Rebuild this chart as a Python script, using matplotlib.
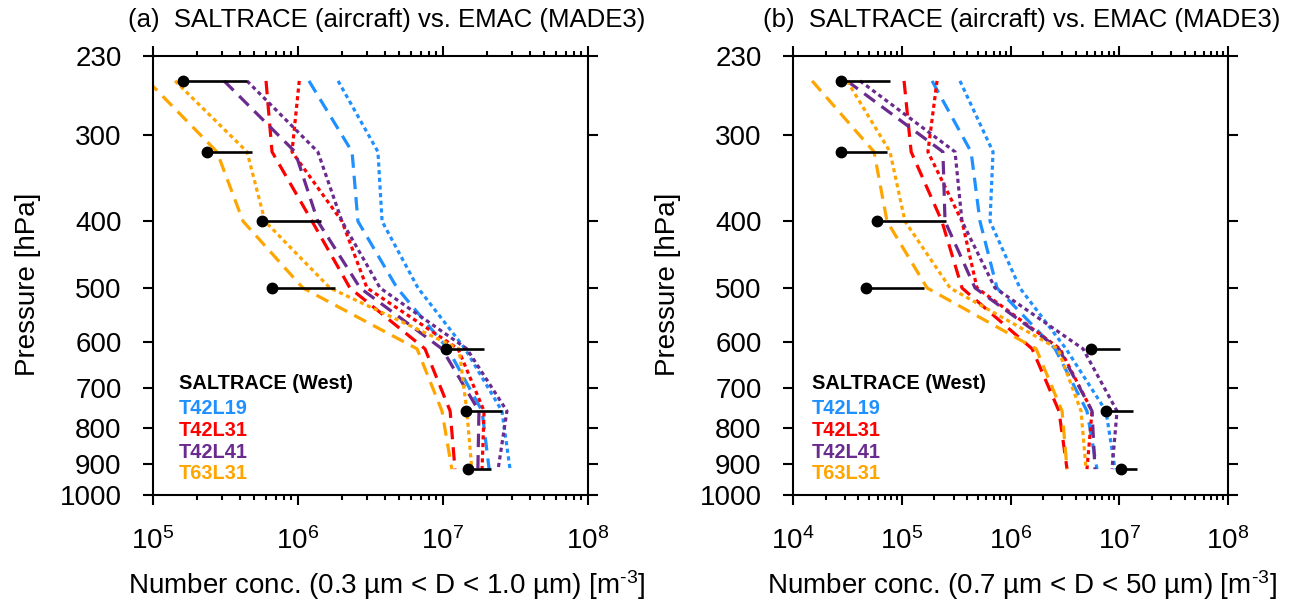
import matplotlib
matplotlib.use('Agg')
import matplotlib.pyplot as plt
from matplotlib.ticker import FixedLocator, NullLocator, LogLocator, NullFormatter

plt.rcParams['font.family'] = ['Liberation Sans', 'DejaVu Sans']
plt.rcParams['mathtext.fontset'] = 'custom'
plt.rcParams['mathtext.rm'] = 'Liberation Sans'
plt.rcParams['mathtext.it'] = 'Liberation Sans:italic'
plt.rcParams['mathtext.bf'] = 'Liberation Sans:bold'

# pressure levels [hPa] of the flight-leg bins (shared by obs and model)
pressure = [250, 317, 400, 500, 613, 755, 917]

# ---- panel (a): 0.3 um < D < 1.0 um
a_obs_mean = [1.61e5, 2.36e5, 5.65e5, 6.62e5, 1.05e7, 1.44e7, 1.49e7]
a_obs_upper = [4.45e5, 4.82e5, 1.44e6, 1.80e6, 1.92e7, 2.55e7, 2.14e7]
a_t42l19_dot = [1.89e6, 3.56e6, 3.80e6, 6.72e6, 1.42e7, 2.55e7, 2.90e7]
a_t42l19_dash = [1.19e6, 2.36e6, 2.59e6, 4.82e6, 1.08e7, 1.86e7, 2.08e7]
a_t42l31_dot = [1.02e6, 9.09e5, 2.01e6, 2.99e6, 1.27e7, 1.92e7, 1.86e7]
a_t42l31_dash = [6.02e5, 6.62e5, 1.25e6, 2.28e6, 7.51e6, 1.12e7, 1.21e7]
a_t42l41_dot = [4.45e5, 1.37e6, 2.01e6, 3.68e6, 1.46e7, 2.76e7, 2.40e7]
a_t42l41_dash = [3.09e5, 9.54e5, 1.37e6, 2.68e6, 9.84e6, 1.77e7, 1.74e7]
a_t63l31_dot = [1.42e5, 4.45e5, 5.92e5, 1.66e6, 1.29e7, 1.46e7, 1.58e7]
a_t63l31_dash = [9.2e4, 2.76e5, 4.18e5, 1.08e6, 6.62e6, 9.84e6, 1.15e7]

# ---- panel (b): 0.7 um < D < 50 um
b_obs_mean = [2.76e4, 2.76e4, 5.92e4, 4.69e4, 5.50e6, 7.55e6, 1.04e7]
b_obs_upper = [7.80e4, 7.32e4, 2.55e5, 1.60e5, 1.02e7, 1.34e7, 1.46e7]
b_t42l19_dot = [3.43e5, 6.91e5, 6.48e5, 1.22e6, 3.24e6, 7.55e6, 9.14e6]
b_t42l19_dash = [1.90e5, 4.34e5, 5.24e5, 7.51e5, 2.57e6, 5.05e6, 6.24e6]
b_t42l31_dot = [2.11e5, 1.74e5, 3.58e5, 4.92e5, 2.85e6, 5.62e6, 5.05e6]
b_t42l31_dash = [1.05e5, 1.22e5, 2.34e5, 3.58e5, 1.58e6, 2.79e6, 3.31e6]
b_t42l41_dot = [4.13e4, 3.09e5, 3.58e5, 7.20e5, 4.64e6, 9.54e6, 8.58e6]
b_t42l41_dash = [3.14e4, 2.39e5, 2.50e5, 4.72e5, 2.79e6, 5.62e6, 5.98e6]
b_t63l31_dot = [3.14e4, 7.80e4, 1.07e5, 2.78e5, 2.73e6, 4.45e6, 4.95e6]
b_t63l31_dash = [1.50e4, 5.56e4, 7.32e4, 1.71e5, 1.72e6, 2.98e6, 3.31e6]

runs = ['T42L19', 'T42L31', 'T42L41', 'T63L31']
colors = {'T42L19': '#1E90FF', 'T42L31': '#FF0000',
          'T42L41': '#6A2A8E', 'T63L31': '#FFA500'}
yticks = [230, 300, 400, 500, 600, 700, 800, 900, 1000]

panels = [
    dict(tag='(a)', xlim=(1e5, 1e8),
         xlabel='Number conc. (0.3 \u00b5m < D < 1.0 \u00b5m) [m$^{\\text{-3}}$]',
         obs=(a_obs_mean, a_obs_upper),
         dot=[a_t42l19_dot, a_t42l31_dot, a_t42l41_dot, a_t63l31_dot],
         dash=[a_t42l19_dash, a_t42l31_dash, a_t42l41_dash, a_t63l31_dash],
         left=153, title_x=0.538, leg_x=0.06),
    dict(tag='(b)', xlim=(1e4, 1e8),
         xlabel='Number conc. (0.7 \u00b5m < D < 50 \u00b5m) [m$^{\\text{-3}}$]',
         obs=(b_obs_mean, b_obs_upper),
         dot=[b_t42l19_dot, b_t42l31_dot, b_t42l41_dot, b_t63l31_dot],
         dash=[b_t42l19_dash, b_t42l31_dash, b_t42l41_dash, b_t63l31_dash],
         left=793, title_x=0.526, leg_x=0.044),
]

W, H = 1299, 609
fig = plt.figure(figsize=(W / 100, H / 100), dpi=100)

for pan in panels:
    ax = fig.add_axes([pan['left'] / W, (H - 495) / H, 435 / W, 439 / H])
    ax.set_xscale('log')
    ax.set_yscale('log')

    for i, run in enumerate(runs):
        ax.plot(pan['dash'][i], pressure, color=colors[run], lw=2.3,
                linestyle=(0, (4.2, 2.5)), dash_capstyle='butt')
        ax.plot(pan['dot'][i], pressure, color=colors[run], lw=2.3,
                linestyle=(0, (1.3, 1.1)), dash_capstyle='butt')

    mean, upper = pan['obs']
    ax.hlines(pressure, mean, upper, color='black', lw=1.9, zorder=5)
    ax.plot(mean, pressure, 'o', color='black', ms=7.5, zorder=6)

    ax.set_xlim(*pan['xlim'])
    ax.set_ylim(1000, 230)
    ax.yaxis.set_major_locator(FixedLocator(yticks))
    ax.yaxis.set_minor_locator(NullLocator())
    ax.set_yticklabels([str(t) for t in yticks])
    ax.xaxis.set_major_locator(LogLocator(base=10, numticks=10))
    ax.xaxis.set_minor_locator(LogLocator(base=10, subs=range(2, 10), numticks=20))
    ax.xaxis.set_minor_formatter(NullFormatter())

    ax.tick_params(which='both', direction='out', top=True, right=True,
                   labelsize=20, width=1.5)
    ax.tick_params(axis='y', which='major', pad=15)
    ax.tick_params(axis='x', which='major', pad=16)
    ax.tick_params(which='major', length=7.5)
    ax.tick_params(which='minor', length=3.8)
    for s in ax.spines.values():
        s.set_linewidth(1.5)

    ax.text(pan['title_x'], 1.082, pan['tag'] + '  SALTRACE (aircraft) vs. EMAC (MADE3)',
            transform=ax.transAxes, ha='center', va='center', fontsize=18.5)
    ax.text(pan['title_x'], -0.205, pan['xlabel'], transform=ax.transAxes,
            ha='center', va='center', fontsize=20)
    ax.text(-0.287, 0.48, 'Pressure [hPa]', transform=ax.transAxes, rotation=90,
            ha='center', va='center', fontsize=20)

    ax.text(pan['leg_x'], 0.255, 'SALTRACE (West)', transform=ax.transAxes,
            ha='left', va='center', fontsize=14.4, fontweight='bold', color='black')
    for run, yy in zip(runs, [0.198, 0.146, 0.096, 0.050]):
        ax.text(pan['leg_x'], yy, run, transform=ax.transAxes, ha='left', va='center',
                fontsize=14.4, fontweight='bold', color=colors[run])

fig.savefig('out.png', dpi=100)
